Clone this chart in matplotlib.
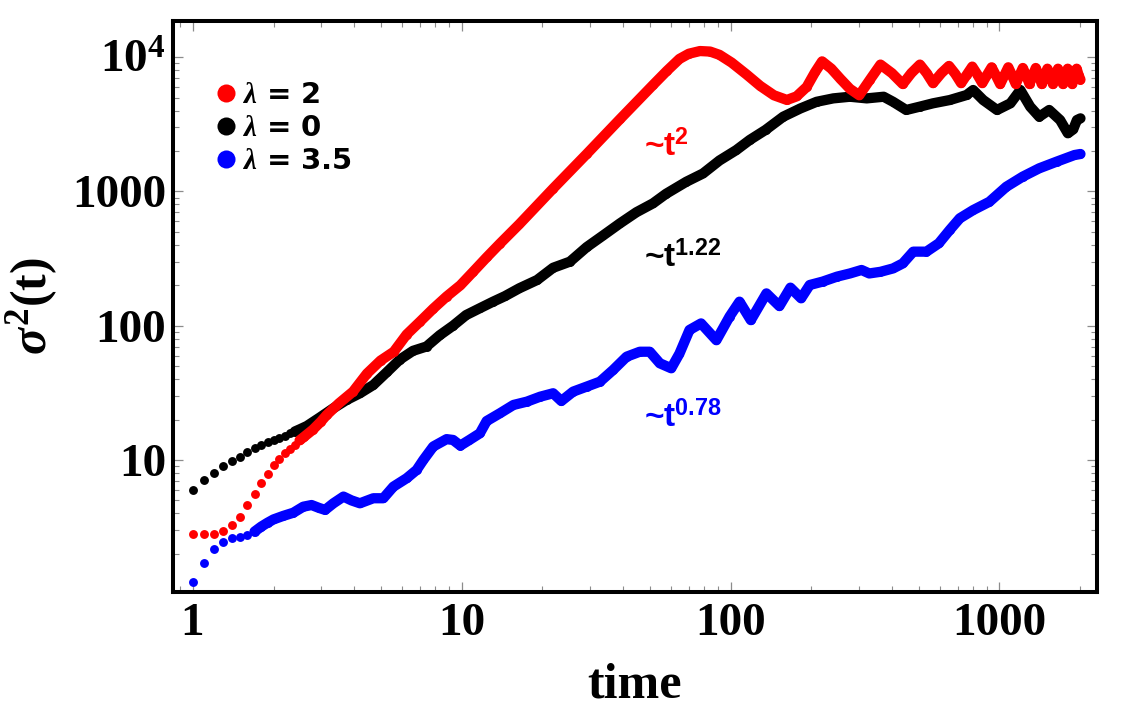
import matplotlib
matplotlib.use("Agg")
import matplotlib.pyplot as plt
from matplotlib.lines import Line2D
import numpy as np

plt.rcParams['font.family'] = ['Liberation Serif', 'DejaVu Serif']
plt.rcParams['font.weight'] = 'bold'
plt.rcParams['mathtext.fontset'] = 'custom'
plt.rcParams['mathtext.rm'] = 'Liberation Serif:bold'
plt.rcParams['mathtext.it'] = 'Liberation Serif:italic:bold'
plt.rcParams['mathtext.bf'] = 'Liberation Serif:bold'
plt.rcParams['mathtext.sf'] = 'Liberation Sans:bold'

# ---------------- data ----------------
t_red = [1, 1.1, 1.2, 1.3, 1.4, 1.5, 1.6, 1.7, 1.8, 1.9, 2.0, 2.1, 2.2, 2.3, 2.4, 2.5, 2.6, 2.8,
         3.0, 3.15, 3.5, 3.95, 4.45, 5.0, 5.6, 6.25, 7.0, 7.85, 8.8, 9.9, 11, 12.4, 13.9, 16.4,
         21.9, 29.2, 38.8, 51.5, 58, 64.6, 70, 77, 84, 91, 101, 115, 129, 145, 162, 176, 192,
         206, 219, 237, 256, 278, 301, 330, 361, 398, 437, 470, 506, 536, 566, 608, 649, 685,
         720, 756, 792, 828, 863, 900, 935, 970, 1006, 1042, 1078, 1114, 1150, 1186, 1221,
         1257, 1293, 1329, 1364, 1400, 1436, 1472, 1507, 1543, 1579, 1615, 1650, 1686, 1722,
         1758, 1793, 1829, 1865, 1900, 1936, 1970, 2000]
s_red = [2.81, 2.81, 2.81, 2.98, 3.30, 3.78, 4.6, 5.55, 6.7, 7.8, 9.2, 10.2, 11.2, 12.1, 13.0,
         14.0, 14.9, 16.8, 19.3, 21.6, 26.4, 32.3, 44, 55, 64, 86, 107, 134, 165, 200, 250, 323,
         409, 570, 1050, 1900, 3450, 6200, 7900, 9700, 10600, 11100, 11000, 10400, 9100, 7400,
         6100, 5200, 4800, 5100, 6000, 7700, 9300, 8200, 6900, 5800, 5200, 6800, 8800, 7600,
         6300, 7600, 8800, 7600, 6400, 7600, 8600, 7500, 6400, 7400, 8500, 7400, 6400, 7400,
         8400, 7300, 6300, 7300, 8400, 7300, 6300, 7300, 8300, 7300, 6300, 7300, 8300, 7300,
         6300, 7300, 8200, 7300, 6300, 7300, 8200, 7300, 6300, 7300, 8200, 7300, 6300, 7300,
         8200, 7300, 6800]

t_black = [1, 1.1, 1.2, 1.3, 1.4, 1.5, 1.6, 1.7, 1.8, 1.9, 2.0, 2.1, 2.2, 2.3, 2.4, 2.5, 2.66,
           2.98, 3.34, 3.74, 4.19, 4.7, 5.27, 5.9, 6.6, 7.41, 8.3, 9.3, 10.4, 11.7, 13.1, 14.5,
           16.4, 19.1, 21.9, 25.3, 29.2, 33.6, 38.8, 44.7, 51.5, 57.6, 68.5, 79, 91, 105, 118,
           135, 157, 182, 209, 241, 278, 321, 371, 402, 450, 506, 566, 653, 754, 798, 870, 979,
           1098, 1195, 1300, 1405, 1530, 1680, 1795, 1880, 1940, 2000]
s_black = [6.0, 7.1, 8.05, 9.0, 9.8, 10.6, 11.4, 12.2, 12.9, 13.5, 14.1, 14.7, 15.2, 15.8,
           16.3, 16.9, 17.9, 20.8, 24.3, 28.0, 31.4, 36.2, 45, 56, 65, 70, 85, 100, 120, 135,
           151, 166, 190, 219, 270, 300, 385, 470, 578, 700, 815, 960, 1180, 1360, 1700, 2030,
           2420, 2870, 3600, 4150, 4650, 4930, 5070, 4930, 5070, 4650, 4040, 4280, 4530, 4790,
           5220, 5690, 4790, 4040, 4530, 5690, 4280, 3600, 4040, 3400, 2710, 2900, 3400, 3500]

t_blue = [1, 1.1, 1.2, 1.3, 1.4, 1.5, 1.6, 1.7, 1.8, 1.9, 2.0, 2.17, 2.37, 2.58, 2.77, 2.95,
          3.11, 3.34, 3.64, 3.9, 4.19, 4.7, 5.12, 5.58, 6.25, 6.81, 7.21, 7.85, 8.8, 9.3, 9.9,
          10.7, 11.7, 12.4, 13.9, 15.6, 17.5, 19.6, 21.9, 23.5, 26.0, 29.2, 32.7, 36.6, 41.1,
          46.0, 50.1, 54.6, 60.2, 64.6, 70.4, 77.7, 88.6, 99.2, 108, 119, 136, 152, 167, 183,
          197, 220, 249, 278, 307, 328, 361, 402, 437, 478, 535, 595, 653, 712, 798, 917, 1060,
          1220, 1405, 1630, 1900, 2000]
s_blue = [1.24, 1.72, 2.16, 2.46, 2.61, 2.69, 2.77, 2.93, 3.19, 3.41, 3.61, 3.83, 4.05, 4.49,
          4.62, 4.4, 4.25, 4.76, 5.34, 5.0, 4.76, 5.19, 5.19, 6.33, 7.31, 8.43, 10.0, 12.6,
          14.3, 14.1, 12.8, 14.1, 15.8, 19.5, 22.3, 25.7, 27.2, 29.6, 31.4, 27.5, 32.3, 35.2,
          38.3, 46.8, 58.8, 64, 64, 52.5, 48.2, 62, 93, 104, 78, 117, 151, 110, 174, 140, 192,
          160, 201, 213, 232, 245, 260, 245, 252, 267, 291, 356, 356, 411, 516, 631, 726, 837,
          1083, 1288, 1486, 1665, 1866, 1900]

series_labels = [r'$\lambda$ = 2', r'$\lambda$ = 0', r'$\lambda$ = 3.5']
series_colors = ['#ff0000', '#000000', '#0000ff']
slope_labels = ['~t$^{\\mathsf{2}}$', '~t$^{\\mathsf{1.22}}$', '~t$^{\\mathsf{0.78}}$']

xticks = [1, 10, 100, 1000]
xtick_labels = ['1', '10', '100', '1000']
yticks = [10, 100, 1000, 10000]
ytick_labels = ['10', '100', '1000', '10$^{4}$']

# ---------------- figure ----------------
W, H = 1124, 710
fig = plt.figure(figsize=(W / 100, H / 100), dpi=100)
ax = fig.add_axes([173 / W, 1 - 592 / H, (1097 - 173) / W, (592 - 21) / H])
ax.set_xscale('log')
ax.set_yscale('log')
ax.set_xlim(0.846, 2304)
ax.set_ylim(1.04, 18580)

ms = 6.4
lw = 7.4
data = {
    'red': (t_red, s_red, 2.45),
    'black': (t_black, s_black, 2.35),
    'blue': (t_blue, s_blue, 1.65),
}
order = [('black', 1), ('red', 0), ('blue', 2)]
for key, idx in order:
    tt, ss, tmin = data[key]
    tt = np.asarray(tt, float)
    ss = np.asarray(ss, float)
    c = series_colors[idx]
    ax.plot(tt, ss, ls='none', marker='o', ms=ms, color=c, mec='none', zorder=3)
    m = tt >= tmin
    ax.plot(tt[m], ss[m], '-', lw=lw, color=c, solid_capstyle='round',
            solid_joinstyle='round', zorder=3)

# frame and ticks
for sp in ax.spines.values():
    sp.set_linewidth(2.9)
    sp.set_color('black')
ax.tick_params(which='both', direction='in', top=True, right=True, color='#8c8c8c',
               labelcolor='black')
ax.tick_params(which='major', length=7.5, width=0.9)
ax.tick_params(which='minor', length=4, width=0.8)
ax.tick_params(axis='x', which='major', pad=8, labelsize=34)
ax.tick_params(axis='y', which='major', pad=5, labelsize=34)
ax.set_xticks(xticks)
ax.set_xticklabels(xtick_labels)
ax.set_yticks(yticks)
ax.set_yticklabels(ytick_labels)
for lab in ax.get_xticklabels() + ax.get_yticklabels():
    lab.set_fontweight('bold')

ax.set_xlabel('time', fontsize=36, fontweight='bold')
ax.xaxis.set_label_coords(0.5, -(662 - 592) / 571)
ax.set_ylabel(r'$\sigma^{2}$(t)', fontsize=36, fontweight='bold')
ax.yaxis.set_label_coords(-(173 - 60) / 924, 0.5)

# slope annotations
ann_pos = [(644, 155.7), (644, 266.7), (644, 426.7)]
for lab, c, (px, py) in zip(slope_labels, series_colors, ann_pos):
    ax.text((px - 173) / 924, (592 - py) / 571, lab, transform=ax.transAxes,
            color=c, fontsize=24, fontweight='bold', family='Liberation Sans',
            ha='left', va='baseline')

# legend
handles = [Line2D([0], [0], ls='none', marker='o', ms=13, color=c, mec='none')
           for c in series_colors]
leg = ax.legend(handles, series_labels, loc='upper left',
                bbox_to_anchor=(214 / W, 1 - 81 / H), bbox_transform=fig.transFigure,
                frameon=False, borderpad=0, borderaxespad=0, handlelength=0.8,
                handletextpad=0.15, labelspacing=0.17,
                prop={'family': 'DejaVu Sans', 'weight': 'bold', 'size': 21})

fig.savefig('out.png', dpi=100)
